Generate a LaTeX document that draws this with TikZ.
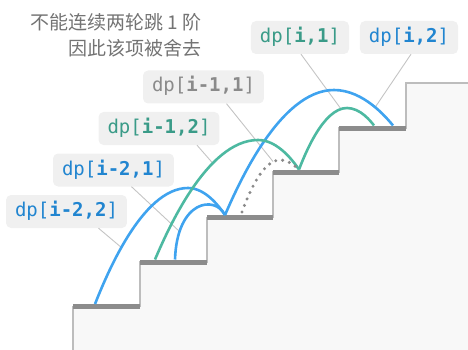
\documentclass[tikz,border=0pt]{standalone}
\usepackage{fontspec}
\newfontfamily\cjk{Noto Sans CJK SC}
\setmonofont{DejaVu Sans Mono}
\definecolor{bluearc}{HTML}{3FA3EF}
\definecolor{tealarc}{HTML}{4DB9A1}
\definecolor{bluetxt}{HTML}{2185D0}
\definecolor{tealtxt}{HTML}{3A9B88}
\definecolor{graytxt}{HTML}{8A8A8A}
\definecolor{notetxt}{HTML}{737373}
\definecolor{boxfill}{HTML}{F0F0F0}
\definecolor{stairfill}{HTML}{F8F8F8}
\definecolor{stairedge}{HTML}{BDBDBD}
\definecolor{barcol}{HTML}{8C8C8C}
\definecolor{conncol}{HTML}{C4C4C4}
\begin{document}
\begin{tikzpicture}[x=1pt,y=-1pt,
  lbl/.style={rounded corners=5pt, fill=boxfill, inner xsep=9pt, inner ysep=0pt,
    minimum height=33pt, text height=14pt, text depth=4pt,
    font=\ttfamily\fontsize{19}{22}\selectfont},
  conn/.style={draw=conncol, line width=0.9pt},
  arcb/.style={draw=bluearc, line width=2.6pt},
  arct/.style={draw=tealarc, line width=2.6pt},
  arcd/.style={draw=graytxt, line width=3.4pt, line cap=round, dash pattern=on 0pt off 7pt},
  stepbar/.style={draw=barcol, line width=5pt},
  note/.style={anchor=base east, inner sep=0pt, text=notetxt, font=\cjk\fontsize{19}{26}\selectfont}
]
\useasboundingbox (0,0) rectangle (468,350);

% stairs
\fill[stairfill] (73,350) -- (73,306.5) -- (140,306.5) -- (140,262) -- (207,262) -- (207,217.5)
  -- (273,217.5) -- (273,172) -- (339,172) -- (339,128) -- (406,128) -- (406,83) -- (468,83)
  -- (468,350) -- cycle;
\draw[stairedge, line width=1.2pt] (73,350) -- (73,306.5) -- (140,306.5) -- (140,262) -- (207,262) -- (207,217.5)
  -- (273,217.5) -- (273,172) -- (339,172) -- (339,128) -- (406,128) -- (406,83) -- (468,83);
\draw[stepbar] (73,306.5) -- (140,306.5);
\draw[stepbar] (140,262) -- (207,262);
\draw[stepbar] (207,217.5) -- (273,217.5);
\draw[stepbar] (273,172) -- (339,172);
\draw[stepbar] (339,128) -- (406,128);

% note
\node[note] (n1) at (202,30) {不能连续两轮跳 1 阶};
\node[note] (n2) at (202,56) {因此该项被舍去};

% labels
\node[lbl, text=tealtxt] (lI1) at (300,37.5) {dp[\textbf{i,1}]};
\node[lbl, text=bluetxt] (lI2) at (409,37.5) {dp[\textbf{i,2}]};
\node[lbl, text=graytxt] (lM11) at (203.5,87) {dp[\textbf{i-1,1}]};
\node[lbl, text=tealtxt] (lM12) at (159,128.5) {dp[\textbf{i-1,2}]};
\node[lbl, text=bluetxt] (lM21) at (113.5,170) {dp[\textbf{i-2,1}]};
\node[lbl, text=bluetxt] (lM22) at (66.5,211.5) {dp[\textbf{i-2,2}]};

% connector ends on arcs
\coordinate (cI1) at (341,109);
\coordinate (cI2) at (375,107.5);
\coordinate (cM11) at (273,161.5);
\coordinate (cM12) at (213,163.5);
\coordinate (cM21) at (179,231);
\coordinate (cM22) at (122,248);

\draw[conn] ([xshift=1pt]lI1.south) -- (cI1);
\draw[conn] ([xshift=2pt]lI2.south) -- (cI2);
\draw[conn] ([xshift=23pt]lM11.south) -- (cM11);
\draw[conn] ([xshift=38pt]lM12.south) -- (cM12);
\draw[conn] ([xshift=18pt]lM21.south) -- (cM21);
\draw[conn] ([xshift=32pt]lM22.south) -- (cM22);

% arcs
\coordinate (s1a) at (95,304);
\coordinate (s2a) at (155,259.5);
\coordinate (s2b) at (175,259.5);
\coordinate (s3a) at (225,215);
\coordinate (s3d) at (242,212);
\coordinate (s4a) at (299,169.5);
\coordinate (s4d) at (296,167);
\coordinate (s5a) at (374,125.5);
\coordinate (s5b) at (393,125.5);

\draw[arcb] (s1a) parabola bend (188,188) (s3a);
\draw[arcb] (s2b) .. controls (177,200) and (215,195) .. (s3a);
\draw[arcb] (s3a) parabola bend (334,90) (s5b);
\draw[arct] (s2a) parabola bend (258,140) (s4a);
\draw[arct] (s4a) parabola bend (347,108) (s5a);
\draw[arcd] (s3d) parabola bend (280,160) (s4d);
\end{tikzpicture}
\end{document}
